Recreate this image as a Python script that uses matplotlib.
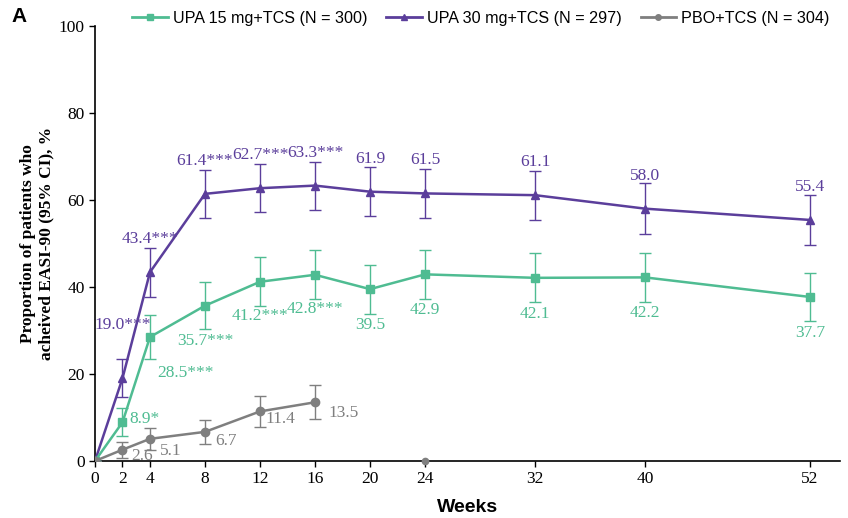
import matplotlib
matplotlib.use("Agg")
import matplotlib.pyplot as plt
from matplotlib.lines import Line2D

weeks_upa = [0, 2, 4, 8, 12, 16, 20, 24, 32, 40, 52]
upa15 = [0, 8.9, 28.5, 35.7, 41.2, 42.8, 39.5, 42.9, 42.1, 42.2, 37.7]
upa15_err = [0, 3.2, 5.1, 5.4, 5.6, 5.6, 5.6, 5.6, 5.6, 5.6, 5.5]
upa15_lbl = ["", "8.9*", "28.5***", "35.7***", "41.2***", "42.8***", "39.5", "42.9", "42.1", "42.2", "37.7"]

upa30 = [0, 19.0, 43.4, 61.4, 62.7, 63.3, 61.9, 61.5, 61.1, 58.0, 55.4]
upa30_err = [0, 4.4, 5.6, 5.5, 5.5, 5.5, 5.6, 5.7, 5.6, 5.8, 5.8]
upa30_lbl = ["", "19.0***", "43.4***", "61.4***", "62.7***", "63.3***", "61.9", "61.5", "61.1", "58.0", "55.4"]

weeks_pbo = [0, 2, 4, 8, 12, 16]
pbo = [0, 2.6, 5.1, 6.7, 11.4, 13.5]
pbo_err = [0, 1.8, 2.5, 2.8, 3.6, 3.9]
pbo_lbl = ["", "2.6", "5.1", "6.7", "11.4", "13.5"]
pbo_extra_week = [24]
pbo_extra_val = [0]

xticks = [0, 2, 4, 8, 12, 16, 20, 24, 32, 40, 52]
yticks = [0, 20, 40, 60, 80, 100]
legend_labels = ["UPA 15 mg+TCS (N = 300)", "UPA 30 mg+TCS (N = 297)", "PBO+TCS (N = 304)"]

GREEN = "#4fbc92"
PURPLE = "#5b3e9b"
GREY = "#7f7f7f"
SERIF = "Liberation Serif"
SANS = "Liberation Sans"

fig = plt.figure(figsize=(8.48, 5.18), dpi=100)
ax = fig.add_axes([0.112, 0.110, 0.879, 0.840])

def series(x, y, e, c, m, ms):
    ax.errorbar(x, y, yerr=e, color=c, ecolor=c, elinewidth=1.0, capsize=4,
                capthick=1.0, lw=1.8, marker=m, ms=ms, zorder=3)

series(weeks_upa, upa30, upa30_err, PURPLE, "^", 6)
series(weeks_upa, upa15, upa15_err, GREEN, "s", 6)
series(weeks_pbo, pbo, pbo_err, GREY, "o", 6)
ax.plot(pbo_extra_week, pbo_extra_val, "o", color=GREY, ms=4.5, zorder=3, clip_on=False)

# label offsets in pixels (dx, dy, ha)
off30 = [None, (0, 53, "center"), (0, 33, "center"), (0, 33, "center"), (0, 33, "center"),
         (0, 33, "center"), (0, 33, "center"), (0, 33, "center"), (0, 33, "center"),
         (0, 33, "center"), (0, 33, "center")]
off15 = [None, (7, 3, "left"), (7, -36, "left"), (0, -35, "center"), (0, -34, "center"),
         (0, -34, "center"), (0, -36, "center"), (0, -36, "center"), (0, -36, "center"),
         (0, -36, "center"), (0, -36, "center")]
offpb = [None, (9, -6, "left"), (10, -12, "left"), (10, -9, "left"), (5, -8, "left"),
         (13, -11, "left")]

def labels(x, y, lbls, offs, c):
    for xi, yi, t, o in zip(x, y, lbls, offs):
        if not t:
            continue
        dx, dy, ha = o
        ax.annotate(t, (xi, yi), xytext=(dx * 0.72, dy * 0.72), textcoords="offset points",
                    ha=ha, va="center", color=c, fontsize=12.5, family=SERIF)

labels(weeks_upa, upa30, upa30_lbl, off30, PURPLE)
labels(weeks_upa, upa15, upa15_lbl, off15, GREEN)
labels(weeks_pbo, pbo, pbo_lbl, offpb, GREY)

ax.set_xlim(0, 54.2)
ax.set_ylim(0, 100)
ax.set_xticks(xticks)
ax.set_yticks(yticks)
for lab in ax.get_xticklabels() + ax.get_yticklabels():
    lab.set_family(SERIF)
    lab.set_fontsize(12.5)
ax.tick_params(length=4, width=1)
for s in ["top", "right"]:
    ax.spines[s].set_visible(False)
for s in ["left", "bottom"]:
    ax.spines[s].set_linewidth(1.2)

ax.set_xlabel("Weeks", family=SANS, fontweight="bold", fontsize=14, labelpad=8)
ax.set_ylabel("Proportion of patients who\nacheived EASI-90 (95% CI), %", family=SERIF,
              fontweight="bold", fontsize=12.5, labelpad=3)

handles = [Line2D([], [], color=GREEN, marker="s", ms=4, lw=2),
           Line2D([], [], color=PURPLE, marker="^", ms=4, lw=2),
           Line2D([], [], color=GREY, marker="o", ms=4, lw=2)]
fig.legend(handles, legend_labels, loc="center", bbox_to_anchor=(0.567, 0.965), ncol=3,
           frameon=False, prop={"family": SANS, "size": 11.6}, handlelength=2.2,
           columnspacing=1.2, handletextpad=0.3)

fig.text(0.014, 0.968, "A", family=SANS, fontweight="bold", fontsize=15, va="center")

fig.savefig("out.png", dpi=100)
